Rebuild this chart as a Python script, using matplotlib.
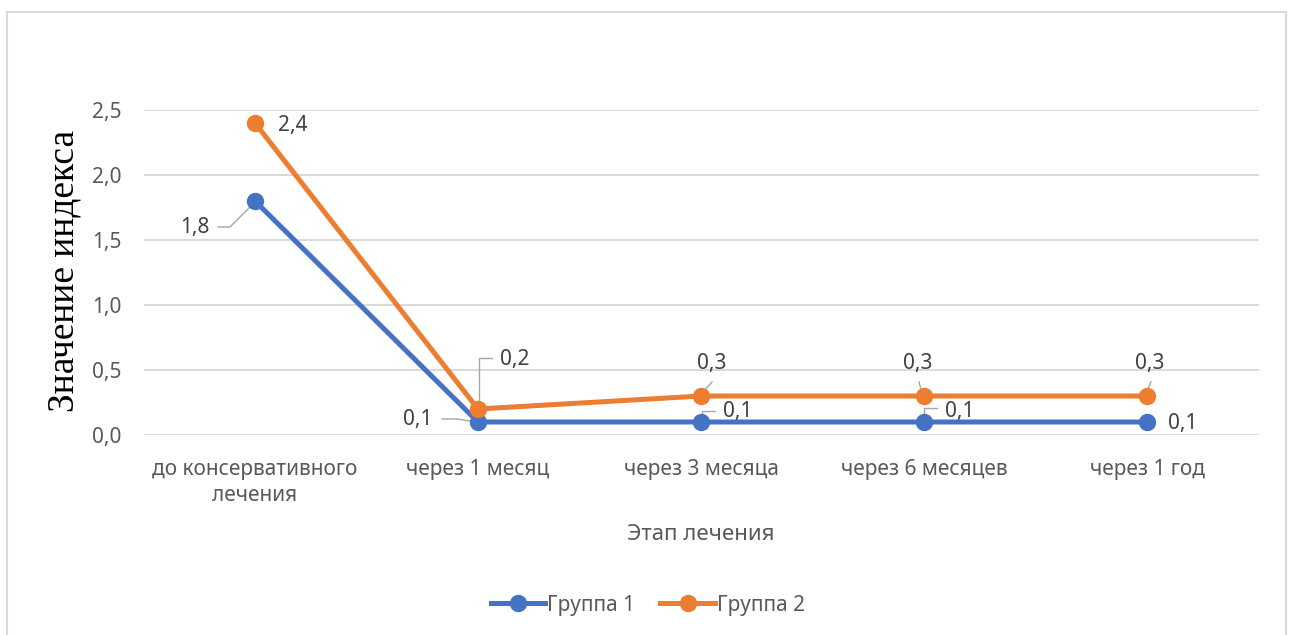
import numpy as np
import matplotlib.pyplot as plt
import matplotlib.transforms as mtransforms
from matplotlib.patches import Rectangle

# Этапы лечения и значения индекса по группам
stages = ['до консервативного\nлечения', 'через 1 месяц', 'через 3 месяца',
          'через 6 месяцев', 'через 1 год']
group1 = [1.8, 0.1, 0.1, 0.1, 0.1]
group2 = [2.4, 0.2, 0.3, 0.3, 0.3]
yticks = [0.0, 0.5, 1.0, 1.5, 2.0, 2.5]

BLUE = '#4472C4'
ORANGE = '#ED7D31'
GRID = '#D9D9D9'
TEXT = '#595959'
LEADER = '#A6A6A6'
FONT = 'Noto Sans'

# label offsets in pixels from the point (x, y up) and optional leader lines
g1_offsets = [(-60, -27), (-60, 2), (37, 11), (36, 11), (36, -2)]
g1_leaders = [[(-2, -3), (-25, -26), (-37, -26)],
              [(-2, 0), (-21, 3), (-36, 3)],
              [(1, 3), (1, 11), (14, 11)],
              [(0, 3), (0, 14), (13, 14)],
              None]
g2_offsets = [(38, -2), (37, 50), (11, 33), (-6, 32), (3, 32)]
g2_leaders = [None,
              [(1, 3), (1, 51), (14, 51)],
              [(1, 3), (11, 14)],
              [(-2, 3), (-5, 14)],
              [(0, 5), (4, 14)]]


def fmt(v):
    return f'{v:.1f}'.replace('.', ',')


def label_points(ax, fig, xs, ys, offsets, leaders):
    for x, y, off, lead in zip(xs, ys, offsets, leaders):
        # transform: inches relative to the data point
        tr = fig.dpi_scale_trans + mtransforms.ScaledTranslation(x, y, ax.transData)
        if lead is not None:
            px = [p[0] / 100 for p in lead]
            py = [p[1] / 100 for p in lead]
            ax.plot(px, py, color=LEADER, lw=1.0, transform=tr, zorder=2, clip_on=False)
        ax.text(off[0] / 100, off[1] / 100, fmt(y), transform=tr, ha='center', va='center',
                fontsize=15, color='#404040', family=FONT, zorder=5)


fig = plt.figure(figsize=(12.94, 6.35), dpi=100)
ax = fig.add_axes([143.5 / 1294, 200 / 635, 1115 / 1294, 325 / 635])

x = np.arange(len(stages))
ax.plot(x, group1, color=BLUE, lw=3.6, marker='o', ms=11.5, label='Группа 1', zorder=3)
ax.plot(x, group2, color=ORANGE, lw=3.6, marker='o', ms=11.5, label='Группа 2', zorder=3)

ax.set_xlim(-0.5, len(stages) - 0.5)
ax.set_ylim(0, 2.5)
ax.set_yticks(yticks)
ax.set_yticklabels([fmt(v) for v in yticks])
ax.set_xticks(x)
ax.set_xticklabels(stages, linespacing=1.35)
ax.tick_params(length=0, labelsize=15, labelcolor=TEXT, pad=16)
ax.tick_params(axis='x', pad=17)
for lbl in ax.get_xticklabels() + ax.get_yticklabels():
    lbl.set_family(FONT)

ax.grid(axis='y', color=GRID, lw=1.4)
ax.set_axisbelow(True)
for side in ['top', 'right', 'left', 'bottom']:
    ax.spines[side].set_visible(False)

label_points(ax, fig, x, group1, g1_offsets, g1_leaders)
label_points(ax, fig, x, group2, g2_offsets, g2_leaders)

fig.text(64 / 1294, 1 - 271 / 635, 'Значение индекса', rotation=90, ha='center', va='center',
         fontsize=27, family='Liberation Serif', color='black')
fig.text(701 / 1294, 1 - 535 / 635, 'Этап лечения', ha='center', va='center',
         fontsize=16, family=FONT, color=TEXT)

leg = fig.legend(loc='center', bbox_to_anchor=(648 / 1294, 1 - 605 / 635), ncol=2,
                 frameon=False, handlelength=2.6, handletextpad=0.1, columnspacing=1.2,
                 prop={'family': FONT, 'size': 15})
for t in leg.get_texts():
    t.set_color(TEXT)

# outer chart frame
fig.patches.append(Rectangle((7 / 1294, -0.1), 1279 / 1294, 0.1 + 623 / 635,
                             transform=fig.transFigure, fill=False, ec=GRID, lw=1.5))

fig.savefig('out.png', dpi=100)
